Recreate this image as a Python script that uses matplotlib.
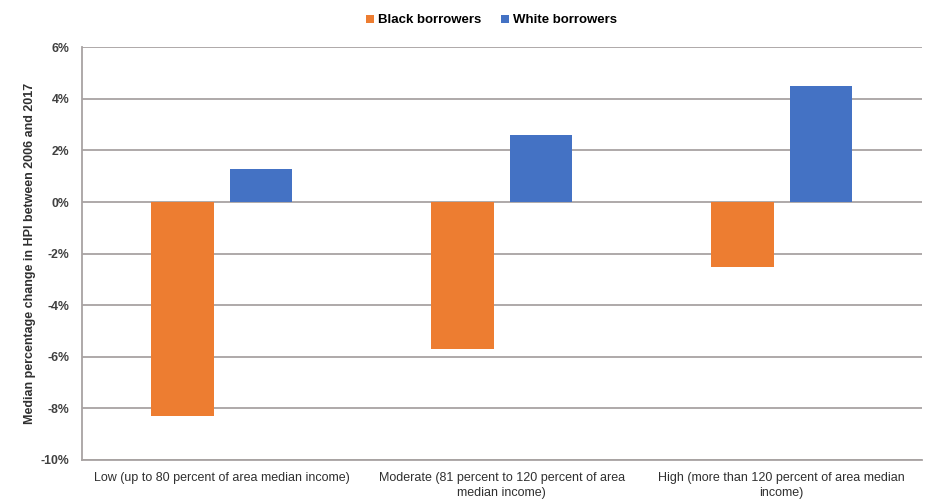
import matplotlib
matplotlib.use("Agg")
import matplotlib.pyplot as plt
import numpy as np
from matplotlib.font_manager import fontManager

names = {f.name for f in fontManager.ttflist}
fam = ['Liberation Sans Narrow', 'DejaVu Sans'] if 'Liberation Sans Narrow' in names else ['Liberation Sans', 'DejaVu Sans']
plt.rcParams['font.family'] = fam

categories = ["Low (up to 80 percent of area median income)",
              "Moderate (81 percent to 120 percent of area\nmedian income)",
              "High (more than 120 percent of area median\nincome)"]
series_names = ["Black borrowers", "White borrowers"]
black_values = [-8.3, -5.7, -2.5]
white_values = [1.3, 2.6, 4.5]
yticks = [-10, -8, -6, -4, -2, 0, 2, 4, 6]

fig = plt.figure(figsize=(9.28, 5.03), dpi=100)
ax = fig.add_axes([0.088, 0.0855, 0.905, 0.8205])

x = np.arange(len(categories))
w = 0.223
grid_c = '#A8A3A2'
ax.bar(x - 0.14, black_values, w, color='#ED7D31', label=series_names[0], zorder=3)
ax.bar(x + 0.14, white_values, w, color='#4472C4', label=series_names[1], zorder=3)

ax.set_xlim(-0.5, len(categories) - 0.5)
ax.set_ylim(-10, 6)
ax.set_yticks(yticks)
ax.set_yticklabels([f"{v}%" for v in yticks], fontsize=8.8, fontweight='bold', color='#404040')
ax.set_xticks(x)
ax.set_xticklabels(categories, fontsize=9, color='#303030', linespacing=1.3)
ax.tick_params(axis='both', length=0)
ax.tick_params(axis='y', pad=9)
ax.tick_params(axis='x', pad=9)
ax.yaxis.grid(True, color=grid_c, linewidth=1.3, zorder=0)
for s in ['top', 'right']:
    ax.spines[s].set_visible(False)
for s in ['left', 'bottom']:
    ax.spines[s].set_color(grid_c)
    ax.spines[s].set_linewidth(1.3)
ax.set_ylabel("Median percentage change in HPI between 2006 and 2017", fontsize=9,
              fontweight='bold', color='#303030', labelpad=3)

fig.legend(loc='upper center', bbox_to_anchor=(0.53, 0.995), ncol=2, frameon=False,
           prop={'weight': 'bold', 'size': 9.5}, handlelength=0.6, handleheight=0.6,
           columnspacing=1.5, handletextpad=0.3)

fig.savefig("out.png", dpi=100)
